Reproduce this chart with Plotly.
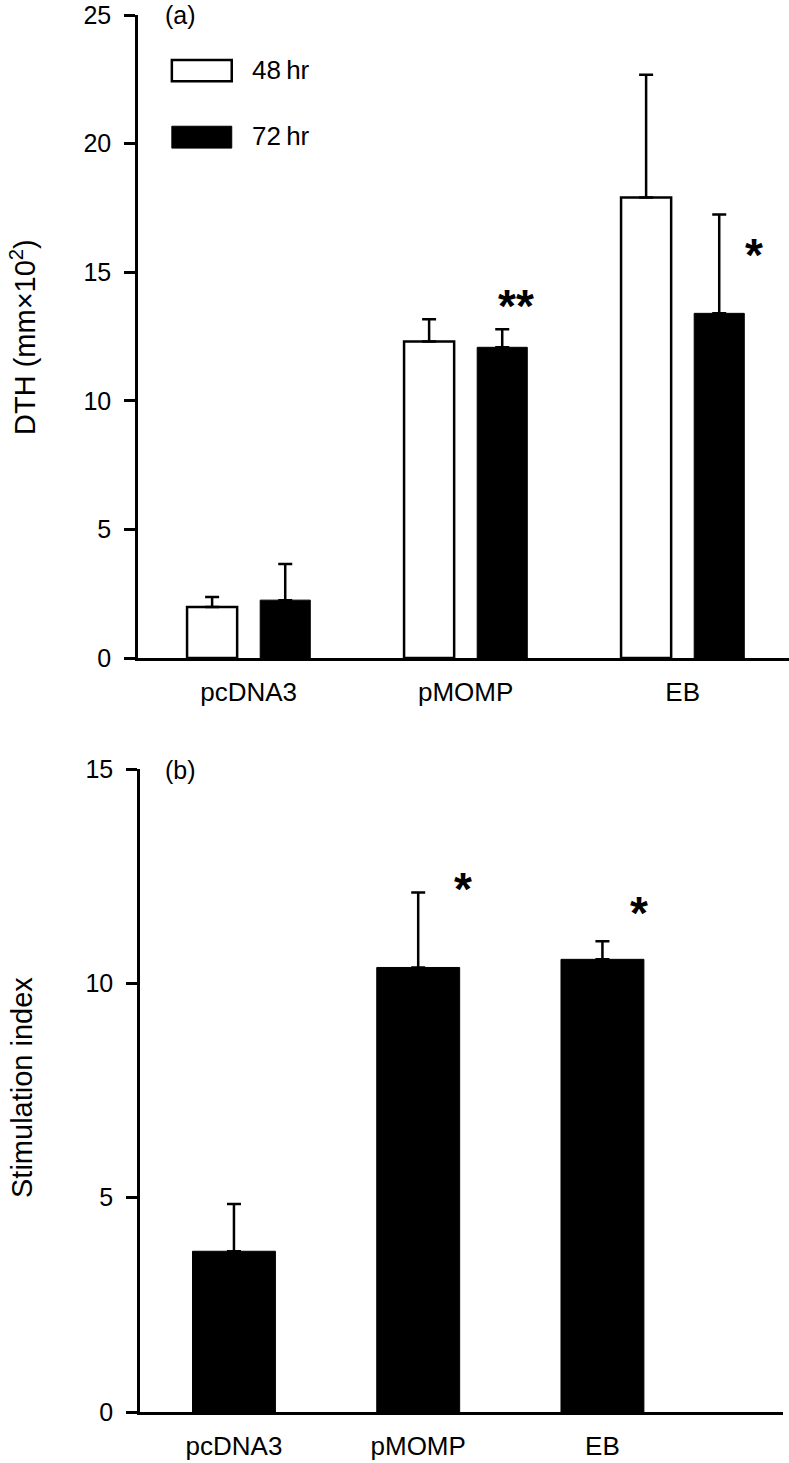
import plotly.graph_objects as go

# ---- data ----
categories = ["pcDNA3", "pMOMP", "EB"]
dth_48 = [1.98, 12.31, 17.90]
dth_48_err = [0.39, 0.86, 4.78]
dth_72 = [2.25, 12.08, 13.40]
dth_72_err = [1.40, 0.70, 3.84]
si_vals = [3.75, 10.37, 10.56]
si_err = [1.10, 1.75, 0.42]
y_ticks_a = [0, 5, 10, 15, 20, 25]
y_ticks_b = [0, 5, 10, 15]

FONT = "Liberation Sans, Arial, Helvetica, sans-serif"
W, H = 789, 1463

fig = go.Figure()

fig.add_trace(go.Bar(
    x=categories, y=dth_48, name="48 hr", xaxis="x", yaxis="y",
    marker=dict(color="white", line=dict(color="black", width=2.5)),
    error_y=dict(type="data", symmetric=False, array=dth_48_err,
                 arrayminus=[0] * len(dth_48_err), color="black",
                 thickness=2.5, width=7),
    showlegend=False,
))
fig.add_trace(go.Bar(
    x=categories, y=dth_72, name="72 hr", xaxis="x", yaxis="y",
    marker=dict(color="black", line=dict(color="black", width=1)),
    error_y=dict(type="data", symmetric=False, array=dth_72_err,
                 arrayminus=[0] * len(dth_72_err), color="black",
                 thickness=2.5, width=7),
    showlegend=False,
))
fig.add_trace(go.Bar(
    x=categories, y=si_vals, name="SI", xaxis="x2", yaxis="y2",
    marker=dict(color="black", line=dict(color="black", width=1)),
    width=0.45,
    error_y=dict(type="data", symmetric=False, array=si_err,
                 arrayminus=[0] * len(si_err), color="black",
                 thickness=2.5, width=7),
    showlegend=False,
))

ytick_font = dict(family=FONT, size=25, color="black")
xtick_font = dict(family=FONT, size=26, color="black")
axis_common = dict(showgrid=False, zeroline=False, showline=True,
                   linecolor="black", linewidth=2.5, automargin=False)

top_y0 = 1 - 658 / H
top_y1 = 1 - 15 / H
bot_y0 = 1 - 1412 / H
bot_y1 = 1 - 769 / H

fig.update_layout(
    width=W, height=H,
    margin=dict(l=0, r=0, t=0, b=0, autoexpand=False),
    paper_bgcolor="white", plot_bgcolor="white",
    barmode="group", bargap=0.326, bargroupgap=0.315,
    font=dict(family=FONT, color="black"),
    xaxis=dict(**axis_common, domain=[138 / W, 1.0], anchor="y",
               type="category", range=[-0.51, 2.49], ticks="",
               tickfont=xtick_font, ticklabelstandoff=9),
    yaxis=dict(**axis_common, domain=[top_y0, top_y1], anchor="x",
               range=[0, 25], tickvals=y_ticks_a, ticks="outside",
               ticklen=11, tickwidth=2.5, tickcolor="black",
               tickfont=ytick_font, ticklabelstandoff=8),
    xaxis2=dict(**axis_common, domain=[140 / W, 783 / W], anchor="y2",
                type="category", range=[-0.51, 2.98], ticks="",
                tickfont=xtick_font, ticklabelstandoff=9),
    yaxis2=dict(**axis_common, domain=[bot_y0, bot_y1], anchor="x2",
                range=[0, 15], tickvals=y_ticks_b, ticks="outside",
                ticklen=11, tickwidth=2.5, tickcolor="black",
                tickfont=ytick_font, ticklabelstandoff=8),
)

# legend (manual swatches)
fig.add_shape(type="rect", xref="x domain", yref="y domain",
              x0=0.052, x1=0.144, y0=0.897, y1=0.930,
              line=dict(color="black", width=2.5), fillcolor="white")
fig.add_shape(type="rect", xref="x domain", yref="y domain",
              x0=0.052, x1=0.144, y0=0.793, y1=0.827,
              line=dict(color="black", width=1), fillcolor="black")

annots = [
    dict(text="48\u2009hr", xref="x domain", yref="y domain", x=0.172, y=0.9145,
         xanchor="left", yanchor="middle", font=dict(size=26)),
    dict(text="72\u2009hr", xref="x domain", yref="y domain", x=0.172, y=0.812,
         xanchor="left", yanchor="middle", font=dict(size=26)),
    dict(text="(a)", xref="x domain", yref="y domain", x=0.038, y=1.0,
         xanchor="left", yanchor="middle", font=dict(size=25)),
    dict(text="(b)", xref="x2 domain", yref="y2 domain", x=0.036, y=0.998,
         xanchor="left", yanchor="middle", font=dict(size=25)),
    dict(text="DTH (mm\u00d710<sup>2</sup>)", xref="paper", yref="paper",
         x=23 / W, y=1 - 337 / H, textangle=-90, xanchor="center",
         yanchor="middle", font=dict(size=29)),
    dict(text="Stimulation index", xref="paper", yref="paper",
         x=22 / W, y=1 - 1088 / H, textangle=-90, xanchor="center",
         yanchor="middle", font=dict(size=29)),
    # significance markers
    dict(text="<b>**</b>", xref="x", yref="y", x=1.23, y=13.7,
         xanchor="center", yanchor="middle", font=dict(size=46)),
    dict(text="<b>*</b>", xref="x", yref="y", x=2.33, y=15.65,
         xanchor="center", yanchor="middle", font=dict(size=46)),
    dict(text="<b>*</b>", xref="x2", yref="y2", x=1.245, y=12.2,
         xanchor="center", yanchor="middle", font=dict(size=46)),
    dict(text="<b>*</b>", xref="x2", yref="y2", x=2.2, y=11.65,
         xanchor="center", yanchor="middle", font=dict(size=46)),
]
for a in annots:
    a.setdefault("showarrow", False)
    a["font"] = dict(family=FONT, color="black", **a["font"])
    fig.add_annotation(**a)

fig.write_html(
    "out.html",
    config={"displayModeBar": False},
    post_script="document.body.style.margin='0';document.body.style.overflow='hidden';",
)
